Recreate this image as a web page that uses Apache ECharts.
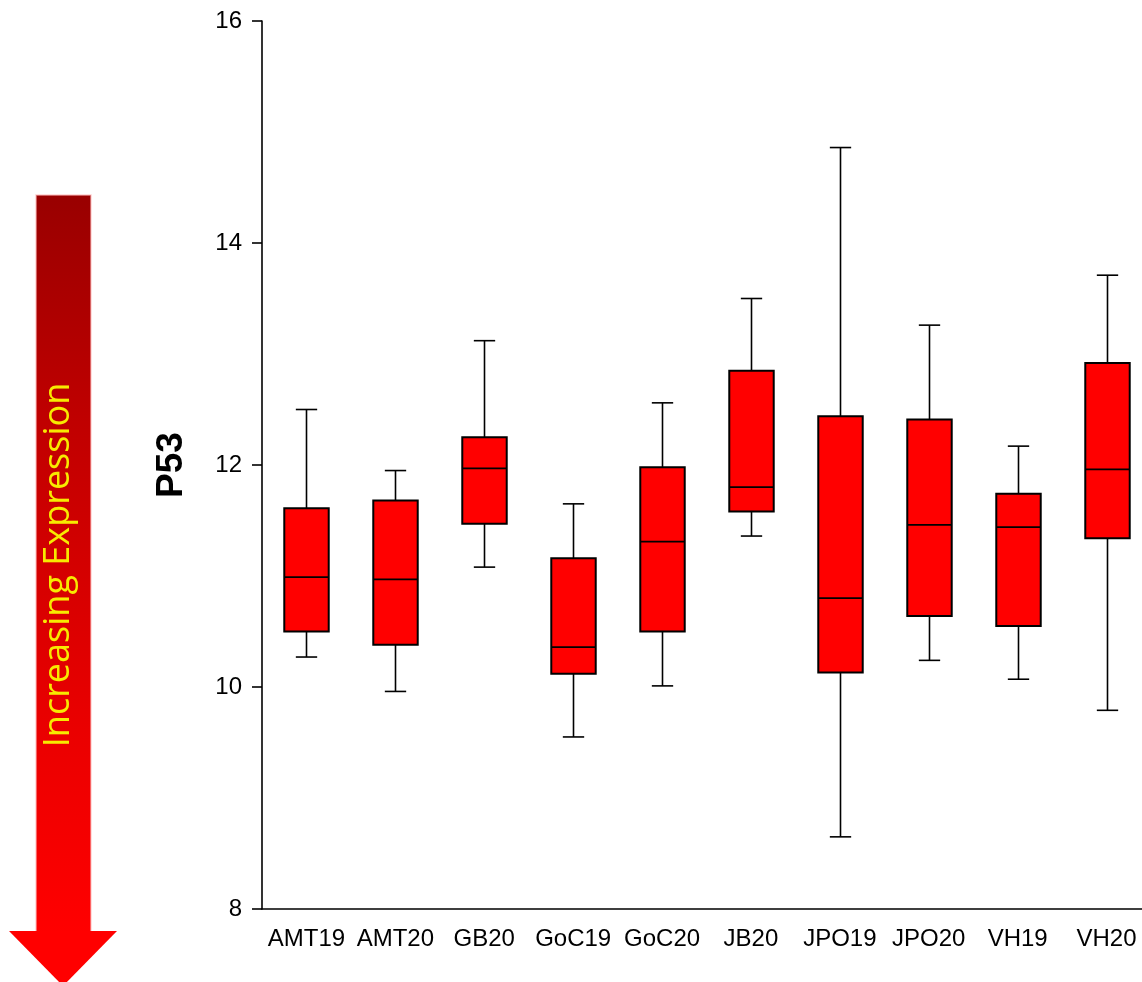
<!DOCTYPE html>
<html>
<head>
<meta charset="utf-8">
<script src="https://cdn.jsdelivr.net/npm/echarts@6/dist/echarts.min.js"></script>
<style>
  html, body { margin: 0; padding: 0; background: #fff; }
  #chart { width: 1142px; height: 982px; }
</style>
</head>
<body>
<div id="chart"></div>
<script>
// P53 expression per site/year: five-number summaries for each group
const categories = ['AMT19', 'AMT20', 'GB20', 'GoC19', 'GoC20', 'JB20', 'JPO19', 'JPO20', 'VH19', 'VH20'];
const whiskerLow  = [10.27,  9.96, 11.08,  9.55, 10.01, 11.36,  8.65, 10.24, 10.07,  9.79];
const quartile1   = [10.50, 10.38, 11.47, 10.12, 10.50, 11.58, 10.13, 10.64, 10.55, 11.34];
const medians     = [10.99, 10.97, 11.97, 10.36, 11.31, 11.80, 10.80, 11.46, 11.44, 11.96];
const quartile3   = [11.61, 11.68, 12.25, 11.16, 11.98, 12.85, 12.44, 12.41, 11.74, 12.92];
const whiskerHigh = [12.50, 11.95, 13.12, 11.65, 12.56, 13.50, 14.86, 13.26, 12.17, 13.71];
const yTicks = { min: 8, max: 16, step: 2 };
const axisTitle = 'P53';
const arrowText = 'Increasing Expression';

const rows = categories.map((c, i) => [i, whiskerLow[i], quartile1[i], medians[i], quartile3[i], whiskerHigh[i]]);

// fit the arrow caption to the length of the arrow shaft
function fitFontSize(text, family, targetWidth) {
  const ctx = document.createElement('canvas').getContext('2d');
  ctx.font = '100px ' + family;
  return 100 * targetWidth / ctx.measureText(text).width;
}
const arrowFont = '"Open Sans", "Noto Sans", sans-serif';
const arrowFontSize = fitFontSize(arrowText, '"Open Sans"', 364);

const chart = echarts.init(document.getElementById('chart'), null, { renderer: 'canvas' });

function renderBox(params, api) {
  const i = api.value(0);
  const pLow = api.coord([i, api.value(1)]);
  const pQ1 = api.coord([i, api.value(2)]);
  const pMed = api.coord([i, api.value(3)]);
  const pQ3 = api.coord([i, api.value(4)]);
  const pHigh = api.coord([i, api.value(5)]);
  const band = api.size([1, 0])[0];
  const bw = band * 0.5;
  const cw = bw * 0.48;
  const x = Math.round(pMed[0]) + 0.5;
  const stroke = { stroke: '#000', lineWidth: 1.6, fill: null };
  return {
    type: 'group',
    children: [
      { type: 'line', shape: { x1: x, y1: pHigh[1], x2: x, y2: pQ3[1] }, style: stroke },
      { type: 'line', shape: { x1: x, y1: pLow[1], x2: x, y2: pQ1[1] }, style: stroke },
      { type: 'line', shape: { x1: x - cw / 2, y1: pHigh[1], x2: x + cw / 2, y2: pHigh[1] }, style: stroke },
      { type: 'line', shape: { x1: x - cw / 2, y1: pLow[1], x2: x + cw / 2, y2: pLow[1] }, style: stroke },
      { type: 'rect', shape: { x: x - bw / 2, y: pQ3[1], width: bw, height: pQ1[1] - pQ3[1] },
        style: { fill: '#ff0000', stroke: '#000', lineWidth: 2 } },
      { type: 'line', shape: { x1: x - bw / 2, y1: pMed[1], x2: x + bw / 2, y2: pMed[1] }, style: { stroke: '#000', lineWidth: 1.8 } }
    ]
  };
}

const axisLineStyle = { color: '#000', width: 1.6 };
const labelFont = '"Liberation Sans", Arial, sans-serif';

chart.setOption({
  animation: false,
  backgroundColor: '#fff',
  // the last category band runs past the right edge of the canvas
  grid: { left: 262, width: 889, top: 21, bottom: 73, containLabel: false, outerBoundsMode: 'none' },
  xAxis: {
    type: 'category',
    data: categories,
    boundaryGap: true,
    axisLine: { lineStyle: axisLineStyle },
    axisTick: { alignWithLabel: true, length: 10, lineStyle: axisLineStyle },
    axisLabel: { color: '#000', fontSize: 24, fontFamily: labelFont, margin: 18, interval: 0, hideOverlap: false },
    splitLine: { show: false }
  },
  yAxis: {
    type: 'value',
    min: yTicks.min, max: yTicks.max, interval: yTicks.step,
    name: axisTitle,
    nameLocation: 'middle',
    nameRotate: 90,
    nameGap: 72,
    nameTextStyle: { color: '#000', fontSize: 37, fontWeight: 'bold', fontFamily: labelFont },
    axisLine: { show: true, lineStyle: axisLineStyle },
    axisTick: { show: true, length: 10, lineStyle: axisLineStyle },
    axisLabel: { color: '#000', fontSize: 24, fontFamily: labelFont, margin: 20 },
    splitLine: { show: false }
  },
  series: [{
    type: 'custom',
    renderItem: renderBox,
    encode: { x: 0, y: [1, 2, 3, 4, 5] },
    data: rows,
    clip: false
  }],
  graphic: [
    // downward arrow with dark-to-bright red shaft
    {
      type: 'rect',
      shape: { x: 36, y: 195, width: 55, height: 737 },
      style: {
        fill: new echarts.graphic.LinearGradient(0, 0, 0, 1, [
          { offset: 0, color: '#990000' },
          { offset: 0.3, color: '#bf0000' },
          { offset: 0.7, color: '#e80000' },
          { offset: 1, color: '#ff0000' }
        ]),
        stroke: 'rgba(255,190,190,0.7)', lineWidth: 1.5
      },
      z: 1
    },
    {
      type: 'polygon',
      shape: { points: [[9, 931], [117, 931], [63, 986]] },
      style: { fill: '#ff0000' },
      z: 2
    },
    {
      type: 'text',
      x: 59, y: 565,
      rotation: Math.PI / 2,
      style: {
        text: arrowText,
        fill: '#f7ea00',
        font: arrowFontSize.toFixed(1) + 'px ' + arrowFont,
        align: 'center',
        verticalAlign: 'middle'
      },
      z: 3
    }
  ]
});
</script>
</body>
</html>
